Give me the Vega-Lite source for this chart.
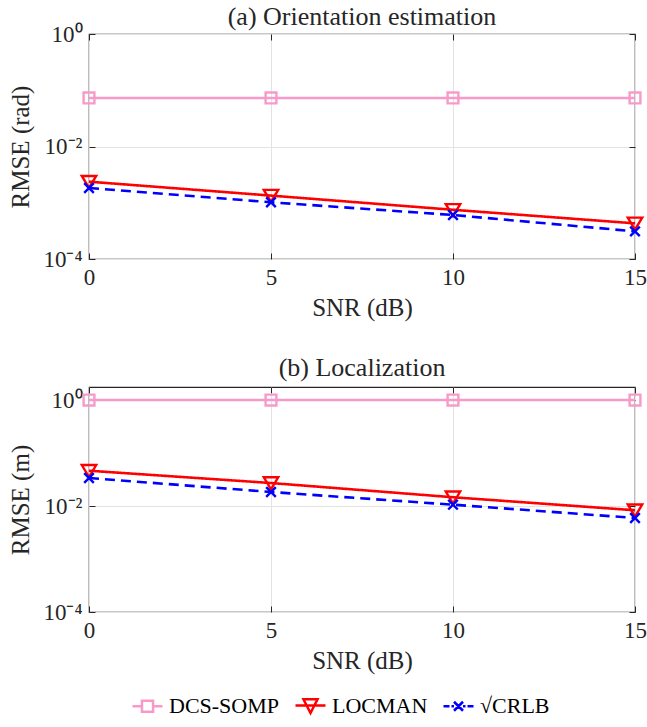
{
  "$schema": "https://vega.github.io/schema/vega-lite/v6.json",
  "padding": {"left": 8, "top": 3, "right": 0, "bottom": 0},
  "background": "white",
  "datasets": {
    "rows": [
      {"panel": "a", "snr": 0, "method": "DCS-SOMP", "rmse": 0.073},
      {"panel": "a", "snr": 5, "method": "DCS-SOMP", "rmse": 0.073},
      {"panel": "a", "snr": 10, "method": "DCS-SOMP", "rmse": 0.073},
      {"panel": "a", "snr": 15, "method": "DCS-SOMP", "rmse": 0.073},
      {"panel": "a", "snr": 0, "method": "LOCMAN", "rmse": 0.00237},
      {"panel": "a", "snr": 5, "method": "LOCMAN", "rmse": 0.00134},
      {"panel": "a", "snr": 10, "method": "LOCMAN", "rmse": 0.00075},
      {"panel": "a", "snr": 15, "method": "LOCMAN", "rmse": 0.00043},
      {"panel": "a", "snr": 0, "method": "√CRLB", "rmse": 0.00183},
      {"panel": "a", "snr": 5, "method": "√CRLB", "rmse": 0.00102},
      {"panel": "a", "snr": 10, "method": "√CRLB", "rmse": 0.000606},
      {"panel": "a", "snr": 15, "method": "√CRLB", "rmse": 0.00031},
      {"panel": "b", "snr": 0, "method": "DCS-SOMP", "rmse": 1.02},
      {"panel": "b", "snr": 5, "method": "DCS-SOMP", "rmse": 1.02},
      {"panel": "b", "snr": 10, "method": "DCS-SOMP", "rmse": 1.02},
      {"panel": "b", "snr": 15, "method": "DCS-SOMP", "rmse": 1.02},
      {"panel": "b", "snr": 0, "method": "LOCMAN", "rmse": 0.047},
      {"panel": "b", "snr": 5, "method": "LOCMAN", "rmse": 0.0275},
      {"panel": "b", "snr": 10, "method": "LOCMAN", "rmse": 0.0148},
      {"panel": "b", "snr": 15, "method": "LOCMAN", "rmse": 0.0084},
      {"panel": "b", "snr": 0, "method": "√CRLB", "rmse": 0.0342},
      {"panel": "b", "snr": 5, "method": "√CRLB", "rmse": 0.0186},
      {"panel": "b", "snr": 10, "method": "√CRLB", "rmse": 0.0107},
      {"panel": "b", "snr": 15, "method": "√CRLB", "rmse": 0.006}
    ]
  },
  "config": {
    "font": "Liberation Serif",
    "view": {"stroke": "#262626", "strokeWidth": 1.2},
    "axis": {
      "domain": false,
      "grid": true,
      "gridColor": "#e3e3e3",
      "gridWidth": 1,
      "tickColor": "#262626",
      "tickSize": -6,
      "labelPadding": 13,
      "labelFont": "Liberation Serif",
      "labelFontSize": 23,
      "labelColor": "#262626",
      "titleFont": "Liberation Serif",
      "titleFontSize": 25,
      "titleFontWeight": "normal",
      "titleColor": "#262626"
    },
    "title": {"font": "Liberation Serif", "fontSize": 26, "fontWeight": "normal", "color": "#262626", "offset": -7},
    "concat": {"spacing": 32}
  },
  "vconcat": [
    {
      "width": 546,
      "height": 225,
      "title": "(a) Orientation estimation",
      "data": {"name": "rows"},
      "transform": [{"filter": "datum.panel === 'a'"}],
      "resolve": {"axis": {"x": "independent", "y": "independent"}},
      "encoding": {
        "x": {"field": "snr", "type": "quantitative", "title": "SNR (dB)",
              "scale": {"domain": [0, 15], "nice": false, "zero": false},
              "axis": {"values": [0, 5, 10, 15], "labelFlush": false, "titlePadding": 6}},
        "y": {"field": "rmse", "type": "quantitative", "title": "RMSE (rad)",
              "scale": {"type": "log", "domain": [0.0001, 1], "nice": false},
              "axis": {"values": [0.0001, 0.01, 1], "titlePadding": 9,
                       "labelExpr": "datum.value >= 0.9 ? '10⁰' : datum.value >= 0.009 ? '10⁻²' : '10⁻⁴'"}}
      },
      "layer": [
        {"mark": {"type": "line", "strokeWidth": 2.6},
         "encoding": {
           "color": {"field": "method", "type": "nominal",
                  "scale": {"domain": ["DCS-SOMP", "LOCMAN", "√CRLB"], "range": ["#f79ac9", "#ff0000", "#0000ff"]},
                  "legend": {
                    "orient": "none", "legendX": 42, "legendY": 655,
                    "direction": "horizontal", "title": null,
                    "labelFont": "Liberation Serif", "labelFontSize": 22, "labelColor": "black",
                    "labelOffset": 5, "columnPadding": 10,
                    "symbolSize": 900, "symbolStrokeWidth": 2.5,
                    "symbolFillColor": "transparent",
                    "encode": {"symbols": {"update": {
                      "shape": {"signal": "datum.value === 'DCS-SOMP' ? 'M-1,0H-0.37M0.37,0H1M-0.37,-0.37H0.37V0.37H-0.37Z' : datum.value === 'LOCMAN' ? 'M-1,0H1M-0.47,-0.42H0.47L0,0.5Z' : 'M-1,0H-0.6M-0.47,0H-0.3M0.3,0H0.47M0.6,0H1M-0.3,-0.3L0.3,0.3M0.3,-0.3L-0.3,0.3'"},
                      "fill": {"value": "transparent"}
                    }}}
                  }},
           "strokeDash": {"field": "method", "type": "nominal", "legend": null,
                        "scale": {"domain": ["√CRLB", "DCS-SOMP", "LOCMAN"], "range": [[10, 6], [1, 0], [1, 0]]}}}},
        {"mark": {"type": "point", "filled": false, "strokeWidth": 2.4, "size": 144, "opacity": 1, "fill": "transparent"},
         "encoding": {
           "x": {"field": "snr", "type": "quantitative",
                 "axis": {"orient": "top", "values": [0, 5, 10, 15], "labels": false, "title": null, "grid": false}},
           "y": {"field": "rmse", "type": "quantitative",
                 "axis": {"orient": "right", "values": [0.0001, 0.01, 1], "labels": false, "title": null, "grid": false}},
           "stroke": {"field": "method", "type": "nominal", "legend": null,
                  "scale": {"domain": ["LOCMAN", "√CRLB", "DCS-SOMP"], "range": ["#ff0000", "#0000ff", "#f79ac9"]}},
           "shape": {"field": "method", "type": "nominal", "legend": null,
                        "scale": {"domain": ["LOCMAN", "DCS-SOMP", "√CRLB"], "range": ["M-1.2,-0.95H1.2L0,1.05Z", "M-0.9,-0.9H0.9V0.9H-0.9Z", "M-0.8,-0.8L0.8,0.8M0.8,-0.8L-0.8,0.8"]}}}}
      ]
    },
    {
      "width": 546,
      "height": 225,
      "title": {"text": "(b) Localization", "offset": 6},
      "data": {"name": "rows"},
      "transform": [{"filter": "datum.panel === 'b'"}],
      "resolve": {"axis": {"x": "independent", "y": "independent"}},
      "encoding": {
        "x": {"field": "snr", "type": "quantitative", "title": "SNR (dB)",
              "scale": {"domain": [0, 15], "nice": false, "zero": false},
              "axis": {"values": [0, 5, 10, 15], "labelFlush": false, "titlePadding": 6}},
        "y": {"field": "rmse", "type": "quantitative", "title": "RMSE (m)",
              "scale": {"type": "log", "domain": [0.0001, 1.8], "nice": false},
              "axis": {"values": [0.0001, 0.01, 1], "titlePadding": 9,
                       "labelExpr": "datum.value >= 0.9 ? '10⁰' : datum.value >= 0.009 ? '10⁻²' : '10⁻⁴'"}}
      },
      "layer": [
        {"mark": {"type": "line", "strokeWidth": 2.6},
         "encoding": {
           "color": {"field": "method", "type": "nominal",
                  "scale": {"domain": ["DCS-SOMP", "LOCMAN", "√CRLB"], "range": ["#f79ac9", "#ff0000", "#0000ff"]}},
           "strokeDash": {"field": "method", "type": "nominal", "legend": null,
                        "scale": {"domain": ["√CRLB", "DCS-SOMP", "LOCMAN"], "range": [[10, 6], [1, 0], [1, 0]]}}}},
        {"mark": {"type": "point", "filled": false, "strokeWidth": 2.4, "size": 144, "opacity": 1, "fill": "transparent"},
         "encoding": {
           "x": {"field": "snr", "type": "quantitative",
                 "axis": {"orient": "top", "values": [0, 5, 10, 15], "labels": false, "title": null, "grid": false}},
           "y": {"field": "rmse", "type": "quantitative",
                 "axis": {"orient": "right", "values": [0.0001, 0.01, 1], "labels": false, "title": null, "grid": false}},
           "stroke": {"field": "method", "type": "nominal", "legend": null,
                  "scale": {"domain": ["LOCMAN", "√CRLB", "DCS-SOMP"], "range": ["#ff0000", "#0000ff", "#f79ac9"]}},
           "shape": {"field": "method", "type": "nominal", "legend": null,
                        "scale": {"domain": ["LOCMAN", "DCS-SOMP", "√CRLB"], "range": ["M-1.2,-0.95H1.2L0,1.05Z", "M-0.9,-0.9H0.9V0.9H-0.9Z", "M-0.8,-0.8L0.8,0.8M0.8,-0.8L-0.8,0.8"]}}}}
      ]
    }
  ]
}
